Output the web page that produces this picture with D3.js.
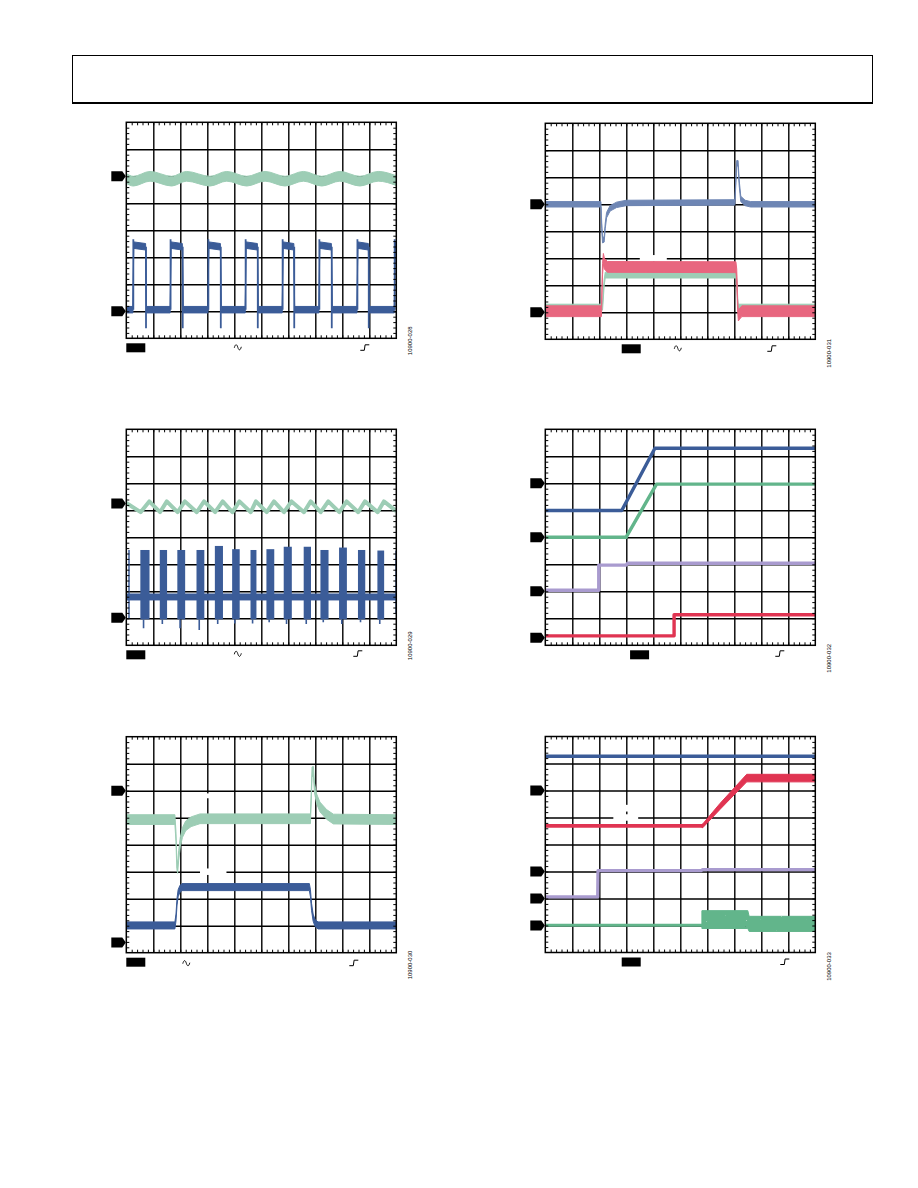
<!DOCTYPE html>
<html><head><meta charset="utf-8">
<script src="https://cdn.jsdelivr.net/npm/d3@7"></script>
<style>body{margin:0;background:#fff}svg{display:block}</style>
</head><body>
<svg id="chart" width="918" height="1188"></svg>
<script>
// ===== DATA (oscilloscope screen units: x 0..10 div, y 0..8 div from bottom) =====
const xGrid = [1,2,3,4,5,6,7,8,9];
const yGrid = [1,2,3,4,5,6,7];
const figIds = ["10900-028","10900-031","10900-029","10900-032","10900-030","10900-033"];

// Panel 1 (10900-028)
const p1Markers = [6, 1];
const p1Green = [[0,5.92],[0.26,5.82],[0.88,6.0],[1.68,5.82],[2.23,6.0],[3.10,5.82],[3.72,6.0],[4.46,5.82],[5.14,6.0],[5.88,5.82],[6.56,6.0],[7.24,5.82],[7.91,6.0],[8.65,5.82],[9.33,6.0],[10,5.84]];
const p1Rise = [0.26,1.64,3.04,4.42,5.79,7.15,8.56,9.94];
const p1Fall = [0.73,2.09,3.50,4.87,6.22,7.61,8.98];
const p1Low = 1.06, p1High = 3.39, p1Over = 3.67, p1Under = 0.37;

// Panel 2 (10900-031)
const p2Markers = [5, 1];
const p2Blue = [[0,5.0],[2.06,5.0],[2.09,4.2],[2.12,3.67],[2.18,3.7],[2.22,4.2],[2.27,4.6],[2.4,4.85],[2.64,4.98],[3.0,5.05],[7.02,5.07],[7.06,5.9],[7.09,6.52],[7.14,6.52],[7.18,5.8],[7.24,5.2],[7.4,5.05],[7.6,5.0],[10,5.0]];
const p2Green = [[0,1.19],[2.12,1.19],[2.18,2.1],[2.22,2.38],[7.08,2.38],[7.14,1.19],[10,1.19]];
const p2Pink = [[0,1.04],[2.08,1.04],[2.12,2.6],[2.15,2.98],[2.19,2.8],[2.3,2.68],[7.06,2.67],[7.09,2.4],[7.12,1.3],[7.15,0.88],[7.2,0.95],[7.28,1.04],[10,1.04]];

// Panel 3 (10900-029)
const p3Markers = [5.25, 1.02];
const p3Green = [[0,5.27],[0.53,4.93],[0.85,5.33],[1.25,4.93],[1.50,5.33],[1.90,4.93],[2.17,5.33],[2.61,4.93],[2.88,5.33],[3.29,4.93],[3.57,5.33],[3.93,4.93],[4.19,5.33],[4.61,4.93],[4.80,5.33],[5.20,4.93],[5.47,5.33],[5.84,4.93],[6.12,5.33],[6.58,4.93],[6.83,5.33],[7.20,4.93],[7.48,5.33],[7.89,4.93],[8.16,5.33],[8.59,4.93],[8.84,5.33],[9.31,4.93],[9.54,5.33],[10,4.97]];
const p3Base = [[0,1.79],[10,1.79]];
// [start, end, top, spike bottom]
const p3Bursts = [[0.52,0.86,3.53,0.63],[1.24,1.51,3.53,0.79],[1.89,2.18,3.53,0.63],[2.60,2.89,3.53,0.57],[3.28,3.58,3.68,0.79],[3.92,4.20,3.56,0.81],[4.60,4.82,3.53,0.81],[5.19,5.48,3.56,0.85],[5.83,6.13,3.65,0.79],[6.57,6.84,3.65,0.79],[7.19,7.49,3.53,0.85],[7.88,8.17,3.62,0.79],[8.58,8.85,3.53,0.85],[9.30,9.55,3.51,0.79]];
const p3BurstBottom = 0.96;
const p3Edges = [[0.10,1.0,3.53],[9.99,1.2,3.5]];

// Panel 4 (10900-032)
const p4Markers = [6, 4, 2, 0.28];
const p4Blue = [[0,4.99],[2.83,4.99],[4.06,7.30],[10,7.30]];
const p4Green = [[0,4.0],[2.99,4.0],[4.12,5.97],[10,5.97]];
const p4Purple = [[0,2.04],[1.98,2.04],[1.98,2.97],[3.0,2.97],[3.05,3.04],[10,3.04]];
const p4Red = [[0,0.35],[4.77,0.35],[4.77,1.13],[10,1.13]];

// Panel 5 (10900-030)
const p5Markers = [6, 0.38];
const p5Green = [[0,4.93],[1.80,4.93],[1.84,4.3],[1.87,3.3],[1.9,3.12],[1.94,3.6],[2.0,4.1],[2.08,4.45],[2.2,4.7],[2.4,4.85],[2.73,4.96],[6.82,4.96],[6.85,5.8],[6.88,6.7],[6.93,6.72],[6.97,6.1],[7.05,5.7],[7.17,5.4],[7.42,5.12],[7.67,4.95],[10,4.93]];
const p5Blue = [[0,1.01],[1.80,1.01],[1.84,1.3],[1.88,1.9],[1.92,2.2],[1.98,2.35],[2.06,2.43],[6.78,2.43],[6.82,2.2],[6.86,1.7],[6.92,1.3],[6.99,1.1],[7.1,1.01],[10,1.01]];

// Panel 6 (10900-033)
const p6Markers = [6, 3, 2, 1];
const p6Blue = [[0,7.27],[10,7.27]];
const p6RedLow = [[0,4.69],[5.83,4.69]];
const p6RedHigh = [[5.80,4.69,0.06],[5.83,4.69,0.07],[6.47,5.41,0.11],[7.46,6.46,0.14],[10,6.46,0.14]];
const p6Purple = [[0,2.06],[1.94,2.06],[1.95,3.03],[5.77,3.03],[5.83,3.07],[10,3.07]];
const p6GreenBase = [[0,1.01],[10,1.01]];
const p6GreenNoise = [[5.8,1.22,0.33],[7.5,1.22,0.33],[7.55,1.06,0.28],[10,1.06,0.28]];

// ===== COLOURS =====
const cMint = "#9dcdb5", cBlue = "#3b5c98", cSlate = "#6e86b4", cPink = "#e8667f",
      cGreen = "#62b58b", cPurple = "#a99bcf", cRed = "#e03452";

// ===== DRAWING =====
const svg = d3.select("#chart");
svg.append("rect").attr("width", 918).attr("height", 1188).attr("fill", "#fff");

// light speckle filter for the noisy trace
const defs = svg.append("defs");
const flt = defs.append("filter").attr("id", "speckle").attr("x", "-5%").attr("y", "-20%").attr("width", "110%").attr("height", "140%");
flt.append("feTurbulence").attr("type", "fractalNoise").attr("baseFrequency", 0.8).attr("numOctaves", 1).attr("seed", 4).attr("result", "n");
flt.append("feColorMatrix").attr("in", "n").attr("type", "matrix")
  .attr("values", "0 0 0 0 0  0 0 0 0 0  0 0 0 0 0  0 0 0 -9 7.6").attr("result", "m");
flt.append("feComposite").attr("in", "SourceGraphic").attr("in2", "m").attr("operator", "in");

// header box
svg.append("rect").attr("x", 72.5).attr("y", 55.5).attr("width", 800).attr("height", 47)
  .attr("fill", "none").attr("stroke", "#000").attr("stroke-width", 1);
svg.append("line").attr("x1", 72).attr("x2", 873).attr("y1", 103).attr("y2", 103)
  .attr("stroke", "#000").attr("stroke-width", 2);

const W = 270, H = 216;
const xMinor = d3.range(1, 50).map(i => i * 0.2);
const yMinor = d3.range(1, 40).map(i => i * 0.2);

function squarePts(rises, falls, low, high) {
  const pts = [[0, low]];
  rises.forEach((r, i) => {
    pts.push([r - 0.015, low], [r + 0.015, high + 0.06]);
    const f = falls[i];
    if (f !== undefined) pts.push([f - 0.015, high], [f + 0.015, low]);
  });
  pts.push([10, rises.length > falls.length ? high + 0.03 : low]);
  return pts;
}

function icWave(g, x0, y0) {
  g.append("path").attr("d", `M${x0},${y0+3} C${x0+1},${y0-1} ${x0+2.5},${y0-1} ${x0+3.5},${y0+2.5} S${x0+6},${y0+6} ${x0+7},${y0+2}`)
    .attr("fill", "none").attr("stroke", "#000").attr("stroke-width", 0.9);
}
function icTrig(g, x0, y0) {
  g.append("path").attr("d", `M${x0},${y0+6} H${x0+4} L${x0+4.8},${y0+0.5} H${x0+9}`)
    .attr("fill", "none").attr("stroke", "#000").attr("stroke-width", 1);
}

function drawPanel(cfg, idx) {
  const g = svg.append("g").attr("transform", `translate(${cfg.left},${cfg.top})`);
  const x = d3.scaleLinear().domain([0, 10]).range([0, W]);
  const y = d3.scaleLinear().domain([0, 8]).range([H, 0]);

  const gx = g.append("g").attr("transform", `translate(0,${H})`)
    .call(d3.axisBottom(x).tickValues(xGrid).tickSize(-H).tickFormat(""));
  const gy = g.append("g").call(d3.axisLeft(y).tickValues(yGrid).tickSize(-W).tickFormat(""));
  [gx, gy].forEach(a => {
    a.select(".domain").remove();
    a.selectAll("line").attr("stroke", "#000").attr("stroke-width", 1.4);
  });

  (cfg.gaps || []).forEach(gp => g.append("rect")
    .attr("x", x(gp[0])).attr("width", x(gp[1]) - x(gp[0]))
    .attr("y", y(gp[3])).attr("height", y(gp[2]) - y(gp[3])).attr("fill", "#fff"));

  const clipId = "clip" + idx;
  g.append("clipPath").attr("id", clipId).append("rect").attr("width", W).attr("height", H);
  const tg = g.append("g").attr("clip-path", `url(#${clipId})`);

  cfg.traces.forEach(t => {
    let el;
    if (t.kind === "band") {
      const area = d3.area().curve(t.curve || d3.curveLinear)
        .x(d => x(d[0]))
        .y0(d => y(d[1] - (d[2] ?? t.s)))
        .y1(d => y(d[1] + (d[2] ?? t.s)));
      el = tg.append("path").attr("d", area(t.pts)).attr("fill", t.color)
        .attr("stroke", t.color).attr("stroke-width", 1).attr("stroke-linejoin", "round");
    } else if (t.kind === "line") {
      const line = d3.line().curve(t.curve || d3.curveLinear).x(d => x(d[0])).y(d => y(d[1]));
      el = tg.append("path").attr("d", line(t.pts)).attr("fill", "none")
        .attr("stroke", t.color).attr("stroke-width", t.width).attr("stroke-linejoin", "round");
    } else if (t.kind === "segs") {
      tg.selectAll(null).data(t.pts).join("line")
        .attr("x1", d => x(d[0])).attr("x2", d => x(d[0]))
        .attr("y1", d => y(d[1])).attr("y2", d => y(d[2]))
        .attr("stroke", t.color).attr("stroke-width", t.width);
    } else if (t.kind === "bursts") {
      tg.selectAll(null).data(t.pts).join("rect")
        .attr("x", d => x(d[0])).attr("width", d => x(d[1]) - x(d[0]))
        .attr("y", d => y(d[2])).attr("height", d => y(t.bottom) - y(d[2]))
        .attr("fill", t.color);
      tg.selectAll(null).data(t.pts).join("line")
        .attr("x1", d => x(d[0] + 0.35 * (d[1] - d[0]))).attr("x2", d => x(d[0] + 0.35 * (d[1] - d[0])))
        .attr("y1", d => y(t.bottom)).attr("y2", d => y(d[3]))
        .attr("stroke", t.color).attr("stroke-width", 1.6);
    }
    if (el && t.speckle) el.attr("filter", "url(#speckle)");
  });

  // minor ticks on the border
  const mk = [
    g.append("g").attr("transform", `translate(0,${H})`).call(d3.axisBottom(x).tickValues(xMinor).tickSize(-3).tickFormat("")),
    g.append("g").call(d3.axisTop(x).tickValues(xMinor).tickSize(-3).tickFormat("")),
    g.append("g").call(d3.axisLeft(y).tickValues(yMinor).tickSize(-3).tickFormat("")),
    g.append("g").attr("transform", `translate(${W},0)`).call(d3.axisRight(y).tickValues(yMinor).tickSize(-3).tickFormat(""))
  ];
  mk.forEach(a => { a.select(".domain").remove(); a.selectAll("line").attr("stroke", "#000").attr("stroke-width", 1); });

  g.append("rect").attr("width", W).attr("height", H).attr("fill", "none")
    .attr("stroke", "#000").attr("stroke-width", 1.5);

  // channel markers
  g.selectAll(null).data(cfg.markers).join("path")
    .attr("transform", d => `translate(0,${y(d)})`)
    .attr("d", "M-15,-5 L-4,-5 L-0.5,0 L-4,5 L-15,5 Z").attr("fill", "#000");

  // black label box under the graticule
  g.append("rect").attr("x", x(cfg.boxX)).attr("y", H + 5).attr("width", 19).attr("height", 9).attr("fill", "#000");
  if (cfg.wave) icWave(g, cfg.wave[0], H + cfg.wave[1]);
  icTrig(g, cfg.trig[0], H + cfg.trig[1]);

  g.append("text").attr("transform", `translate(${W + 16},${H + cfg.idY}) rotate(-90)`)
    .attr("text-anchor", "middle").attr("font-family", "Liberation Sans, Arial, sans-serif")
    .attr("font-size", 6).attr("fill", "#000").text(figIds[idx]);
}

const panels = [
  { left: 126.3, top: 122.3, markers: p1Markers, boxX: 0, wave: [108, 6.5], trig: [234, 6], idY: 2.5,
    traces: [
      { kind: "band", pts: p1Green, s: 0.18, color: cMint, curve: d3.curveMonotoneX },
      { kind: "band", pts: squarePts(p1Rise, p1Fall, p1Low, p1High), s: 0.12, color: cBlue },
      { kind: "segs", pts: p1Rise.map(r => [r, p1Low, p1Over]).concat(p1Fall.map(f => [f, p1High, p1Under])), width: 1.8, color: cBlue }
    ] },
  { left: 545.3, top: 123.3, markers: p2Markers, boxX: 2.83, wave: [129, 6.5], trig: [222, 6], idY: 14,
    gaps: [[3.5, 4.5, 2.88, 3.12]],
    traces: [
      { kind: "band", pts: p2Blue, s: 0.1, color: cSlate },
      { kind: "band", pts: p2Green, s: 0.11, color: cMint },
      { kind: "band", pts: p2Pink, s: 0.2, color: cPink }
    ] },
  { left: 126.3, top: 429.3, markers: p3Markers, boxX: 0, wave: [108, 6], trig: [227, 5], idY: 0.5,
    traces: [
      { kind: "line", pts: p3Green, width: 4, color: cMint },
      { kind: "band", pts: p3Base, s: 0.11, color: cBlue },
      { kind: "bursts", pts: p3Bursts, bottom: p3BurstBottom, color: cBlue },
      { kind: "segs", pts: p3Edges, width: 1.5, color: cBlue }
    ] },
  { left: 545.3, top: 429.3, markers: p4Markers, boxX: 3.14, wave: null, trig: [230, 5], idY: 13,
    traces: [
      { kind: "line", pts: p4Blue, width: 3.4, color: cBlue },
      { kind: "line", pts: p4Green, width: 3.4, color: cGreen },
      { kind: "line", pts: p4Purple, width: 3.4, color: cPurple },
      { kind: "line", pts: p4Red, width: 3.4, color: cRed }
    ] },
  { left: 126.3, top: 736.7, markers: p5Markers, boxX: 0, wave: [56.5, 8], trig: [223, 7], idY: 12.3,
    gaps: [[2.73, 3.71, 2.88, 3.12], [2.93, 3.07, 5.72, 5.9]],
    traces: [
      { kind: "band", pts: p5Green, s: 0.18, color: cMint },
      { kind: "band", pts: p5Blue, s: 0.13, color: cBlue }
    ] },
  { left: 545.3, top: 736.5, markers: p6Markers, boxX: 2.83, wave: null, trig: [235, 6], idY: 14,
    gaps: [[2.52, 3.44, 4.88, 5.12], [2.93, 3.07, 5.22, 5.47]],
    traces: [
      { kind: "line", pts: p6Blue, width: 3.4, color: cBlue },
      { kind: "line", pts: p6RedLow, width: 3.6, color: cRed },
      { kind: "band", pts: p6RedHigh, s: 0.1, color: cRed },
      { kind: "line", pts: p6Purple, width: 3.2, color: cPurple },
      { kind: "line", pts: p6GreenBase, width: 3.2, color: cGreen },
      { kind: "band", pts: p6GreenNoise, s: 0.3, color: cGreen, speckle: true }
    ] }
];

panels.forEach((p, i) => drawPanel(p, i));
</script>
</body></html>
